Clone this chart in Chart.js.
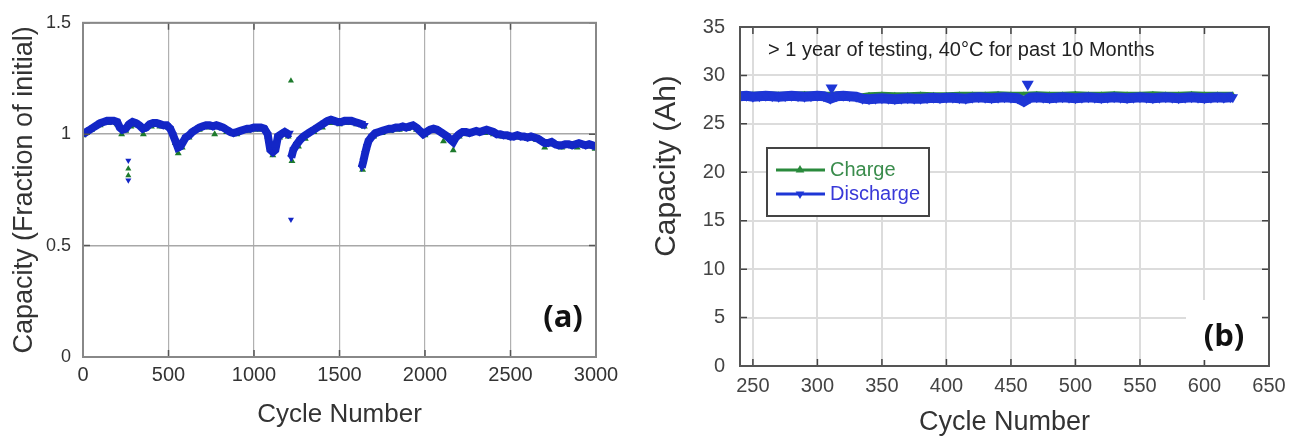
<!DOCTYPE html>
<html>
<head>
<meta charset="utf-8">
<script src="https://cdn.jsdelivr.net/npm/chart.js@4/dist/chart.umd.min.js"></script>
<style>
  body { margin: 0; background: #fff; width: 1298px; height: 440px; overflow: hidden; position: relative; }
  #wa { position: absolute; left: 0; top: 0; width: 640px; height: 440px; }
  #wb { position: absolute; left: 640px; top: 0; width: 658px; height: 440px; }
</style>
</head>
<body>
<div id="wa"><canvas id="chartA"></canvas></div>
<div id="wb"><canvas id="chartB"></canvas></div>
<script>
// ---- panel (a): capacity as fraction of initial ----
const aTicksX = [0, 500, 1000, 1500, 2000, 2500, 3000];
const aTicksY = [0, 0.5, 1, 1.5];

const aDisX = [0, 20, 40, 60, 80, 100, 120, 140, 160, 180, 200, 215, 230, 250, 270, 290, 310, 330, 350, 370,
  390, 410, 430, 450, 470, 490, 510, 525, 540, 555, 570, 585, 600, 620, 640, 660, 680, 700, 720, 740,
  760, 780, 800, 820, 840, 860, 880, 900, 920, 940, 960, 980, 1000, 1020, 1040, 1060, 1080, 1095, 1110, 1125,
  1140, 1160, 1180, 1200, 1210, 1214,
  1218, 1230, 1250, 1270, 1290, 1310, 1330, 1350, 1370, 1390, 1410, 1430, 1450, 1470, 1490, 1510, 1530, 1550,
  1570, 1590, 1610, 1630, 1648, 1649,
  1630, 1640, 1650, 1660, 1670, 1690, 1710, 1730, 1750, 1770, 1790, 1810, 1830, 1850, 1870, 1890, 1910, 1930,
  1950, 1970, 1990, 2010, 2030, 2050, 2070, 2090, 2110, 2130, 2150, 2165, 2180, 2200, 2220, 2240, 2260, 2280,
  2300, 2320, 2340, 2360, 2380, 2400, 2420, 2440, 2460, 2480, 2500, 2520, 2540, 2560, 2580, 2600, 2620, 2640,
  2660, 2680, 2700, 2720, 2740, 2760, 2780, 2800, 2820, 2840, 2860, 2880, 2900, 2920, 2940, 2960, 2980, 2995];
const aDisY = [1.0, 1.01, 1.02, 1.03, 1.04, 1.05, 1.055, 1.06, 1.06, 1.06, 1.055, 1.03, 1.02, 1.025, 1.045, 1.055, 1.05, 1.04, 1.025, 1.03,
  1.045, 1.05, 1.05, 1.045, 1.04, 1.04, 1.025, 1.0, 0.97, 0.94, 0.945, 0.965, 0.985, 0.995, 1.01, 1.02, 1.03, 1.035, 1.04, 1.04,
  1.035, 1.04, 1.035, 1.03, 1.02, 1.01, 1.005, 1.01, 1.015, 1.02, 1.025, 1.025, 1.03, 1.03, 1.03, 1.025, 1.0, 0.93, 0.92, 0.93,
  0.99, 1.0, 1.01, 1.0, 1.005, null,
  0.895, 0.93, 0.955, 0.975, 0.99, 1.0, 1.01, 1.02, 1.03, 1.04, 1.05, 1.06, 1.065, 1.06, 1.055, 1.055, 1.06, 1.06,
  1.06, 1.055, 1.05, 1.045, 1.04, null,
  0.85, 0.88, 0.915, 0.945, 0.97, 0.99, 1.005, 1.01, 1.015, 1.02, 1.025, 1.025, 1.03, 1.03, 1.035, 1.03, 1.035, 1.04,
  1.03, 1.015, 1.0, 1.01, 1.02, 1.025, 1.02, 1.01, 1.0, 0.99, 0.975, 0.965, 0.985, 1.0, 1.01, 1.01, 1.005, 1.01,
  1.015, 1.01, 1.015, 1.02, 1.015, 1.01, 1.0, 1.0, 0.995, 0.995, 0.99, 0.99, 0.995, 0.99, 0.99, 0.985, 0.99, 0.985,
  0.98, 0.97, 0.96, 0.96, 0.965, 0.955, 0.95, 0.95, 0.955, 0.955, 0.95, 0.955, 0.96, 0.955, 0.95, 0.955, 0.95, 0.945];

const aChgX = [0, 50, 100, 150, 200, 226, 250, 280, 300, 353, 400, 450, 500, 540, 557, 580, 620, 680, 740, 770,
  840, 900, 960, 1020, 1080, 1110, 1150, 1200, 1222, 1260, 1300, 1350, 1400, 1450, 1500, 1550, 1600, 1645,
  1635, 1660, 1700, 1750, 1800, 1850, 1900, 1950, 2000, 2050, 2108, 2165, 2200, 2250, 2300, 2350, 2400, 2450,
  2500, 2550, 2600, 2650, 2700, 2750, 2800, 2850, 2890, 2950, 2995];
const aChgY = [0.995, 1.02, 1.04, 1.05, 1.045, 1.0, 1.015, 1.035, 1.04, 1.0, 1.035, 1.035, 1.03, 0.96, 0.915, 0.94, 0.985, 1.02, 1.03, 1.0,
  1.01, 1.0, 1.015, 1.02, 0.99, 0.905, 0.985, 0.99, 0.88, 0.945, 0.98, 1.01, 1.03, 1.05, 1.045, 1.05, 1.045, 1.035,
  0.84, 0.94, 0.99, 1.005, 1.015, 1.02, 1.025, 1.02, 0.995, 1.015, 0.968, 0.928, 0.99, 1.0, 1.005, 1.005, 1.0, 0.99,
  0.985, 0.985, 0.98, 0.975, 0.94, 0.955, 0.94, 0.95, 0.94, 0.945, 0.935];

// isolated points away from the band
const aDisOutX = [265, 265, 1216];
const aDisOutY = [0.882, 0.793, 0.617];
const aChgOutX = [265, 265, 1216];
const aChgOutY = [0.845, 0.815, 1.24];

// ---- panel (b): capacity in Ah ----
const bTicksX = [250, 300, 350, 400, 450, 500, 550, 600, 650];
const bTicksY = [0, 5, 10, 15, 20, 25, 30, 35];

const bDisX = [240, 245, 250, 255, 260, 265, 270, 275, 280, 285, 290, 295, 300, 305, 310, 315, 320, 325, 330,
  335, 340, 345, 350, 355, 360, 365, 370, 375, 380, 385, 390, 395, 400,
  405, 410, 415, 420, 425, 430, 435, 440, 445, 450, 455, 460, 465, 470, 475, 480, 485, 490, 495, 500,
  505, 510, 515, 520, 525, 530, 535, 540, 545, 550, 555, 560, 565, 570, 575, 580, 585, 590, 595, 600,
  605, 610, 615, 620, 622];
const bDisY = [27.85, 27.9, 27.8, 27.85, 27.9, 27.85, 27.8, 27.85, 27.9, 27.85, 27.8, 27.85, 27.9, 27.85, 27.6, 27.85, 27.9, 27.85, 27.8,
  27.6, 27.55, 27.6, 27.65, 27.6, 27.55, 27.6, 27.65, 27.6, 27.6, 27.65, 27.7, 27.65, 27.7,
  27.7, 27.65, 27.6, 27.7, 27.75, 27.7, 27.65, 27.7, 27.75, 27.7, 27.65, 27.3, 27.7, 27.75, 27.7, 27.65, 27.7, 27.75, 27.7, 27.65,
  27.7, 27.75, 27.7, 27.65, 27.7, 27.75, 27.7, 27.65, 27.7, 27.75, 27.7, 27.65, 27.7, 27.75, 27.7, 27.65, 27.7, 27.75, 27.7, 27.65,
  27.7, 27.75, 27.7, 27.75, 27.75];

const bChgX = [240, 250, 260, 270, 280, 290, 300, 310, 320, 332, 340, 350, 360, 370, 380, 390, 400, 410, 420, 430,
  440, 450, 460, 470, 480, 490, 500, 510, 520, 530, 540, 550, 560, 570, 580, 590, 600, 610, 622];
const bChgY = [28.1, 28.1, 28.15, 28.1, 28.1, 28.15, 28.1, 28.1, 28.15, 27.9, 28.05, 28.1, 28.05, 28.05, 28.1, 28.05, 28.05, 28.1, 28.1, 28.1,
  28.15, 28.1, 28.1, 28.15, 28.1, 28.1, 28.15, 28.1, 28.1, 28.15, 28.1, 28.1, 28.15, 28.1, 28.1, 28.15, 28.1, 28.1, 28.1];

const bDisOutX = [311, 463];
const bDisOutY = [28.7, 29.1];

const BLUE_A = '#1326c6';
const GREEN_A = '#1d7a2c';
const BLUE_B = '#1e36d6';
const GREEN_B = '#2a8a3c';

Chart.defaults.font.family = "'Liberation Sans', Arial, sans-serif";
Chart.defaults.color = '#333';

function pts(xs, ys) {
  return xs.map((x, i) => ({ x: x, y: ys[i] }));
}

// frame, inward tick marks, panel letter, legend and note
const frame = {
  id: 'frame',
  afterDraw(chart, args, opts) {
    const { ctx, chartArea: { left, right, top, bottom }, scales: { x, y } } = chart;
    ctx.save();
    ctx.strokeStyle = opts.tickColor;
    ctx.lineWidth = 1.5;
    ctx.beginPath();
    x.ticks.forEach(t => {
      const px = x.getPixelForValue(t.value);
      ctx.moveTo(px, bottom); ctx.lineTo(px, bottom - opts.tickLen);
      ctx.moveTo(px, top); ctx.lineTo(px, top + opts.tickLen);
    });
    y.ticks.forEach(t => {
      const py = y.getPixelForValue(t.value);
      ctx.moveTo(left, py); ctx.lineTo(left + opts.tickLen, py);
      ctx.moveTo(right, py); ctx.lineTo(right - opts.tickLen, py);
    });
    ctx.stroke();
    ctx.strokeStyle = opts.color;
    ctx.lineWidth = opts.width;
    ctx.strokeRect(left, top, right - left, bottom - top);

    if (opts.letterBox) {
      ctx.fillStyle = '#fff';
      ctx.fillRect(opts.letterBox[0], opts.letterBox[1], opts.letterBox[2], opts.letterBox[3]);
    }
    ctx.fillStyle = '#111';
    ctx.font = "bold 31px 'Open Sans', 'Liberation Sans', sans-serif";
    ctx.textAlign = 'center';
    ctx.textBaseline = 'middle';
    ctx.fillText(opts.letter, opts.letterX, opts.letterY);

    if (opts.yTitle) {
      ctx.save();
      ctx.translate(opts.yTitle.x, opts.yTitle.y);
      ctx.rotate(-Math.PI / 2);
      ctx.fillStyle = '#333';
      ctx.font = "30px 'Liberation Sans', Arial, sans-serif";
      ctx.fillText(opts.yTitle.text, 0, 0);
      ctx.restore();
    }

    if (opts.note) {
      ctx.fillStyle = '#222';
      ctx.font = "20px 'Liberation Sans', Arial, sans-serif";
      ctx.textAlign = 'left';
      ctx.fillText(opts.note, opts.noteX, opts.noteY);
    }

    if (opts.legend) {
      const lg = opts.legend;
      ctx.fillStyle = '#fff';
      ctx.fillRect(lg.x, lg.y, lg.w, lg.h);
      ctx.strokeStyle = '#444';
      ctx.lineWidth = 2;
      ctx.strokeRect(lg.x, lg.y, lg.w, lg.h);
      ctx.font = "20px 'Liberation Sans', Arial, sans-serif";
      ctx.textAlign = 'left';
      lg.items.forEach((it, i) => {
        const cy = lg.y + 22 + i * 24;
        ctx.strokeStyle = it.color;
        ctx.lineWidth = 3;
        ctx.beginPath();
        ctx.moveTo(lg.x + 9, cy); ctx.lineTo(lg.x + 58, cy);
        ctx.stroke();
        const cx = lg.x + 33, r = 5;
        const s = it.down ? -1 : 1;
        ctx.fillStyle = it.color;
        ctx.beginPath();
        ctx.moveTo(cx, cy - s * r);
        ctx.lineTo(cx + r * 0.87, cy + s * r * 0.5);
        ctx.lineTo(cx - r * 0.87, cy + s * r * 0.5);
        ctx.closePath();
        ctx.fill();
        ctx.fillStyle = it.text;
        ctx.fillText(it.label, lg.x + 63, cy);
      });
    }
    ctx.restore();
  }
};

const configA = {
  type: 'scatter',
  data: {
    datasets: [{
      label: 'Charge',
      data: pts(aChgX, aChgY),
      showLine: false,
      pointStyle: 'triangle',
      pointRadius: 4,
      pointBorderWidth: 0,
      backgroundColor: GREEN_A,
      borderColor: GREEN_A,
      order: 3
    }, {
      label: 'Charge',
      data: pts(aChgOutX, aChgOutY),
      showLine: false,
      pointStyle: 'triangle',
      pointRadius: 3.5,
      pointBorderWidth: 0,
      backgroundColor: GREEN_A,
      order: 2
    }, {
      label: 'Discharge',
      data: pts(aDisX, aDisY),
      showLine: true,
      spanGaps: false,
      tension: 0,
      borderWidth: 8,
      borderColor: BLUE_A,
      pointStyle: 'triangle',
      pointRotation: 180,
      pointRadius: 4.5,
      pointBorderWidth: 0,
      backgroundColor: BLUE_A,
      order: 1
    }, {
      label: 'Discharge',
      data: pts(aDisOutX, aDisOutY),
      showLine: false,
      pointStyle: 'triangle',
      pointRotation: 180,
      pointRadius: 3.5,
      pointBorderWidth: 0,
      backgroundColor: BLUE_A,
      order: 1
    }]
  },
  options: {
    responsive: true,
    maintainAspectRatio: false,
    animation: false,
    events: [],
    layout: { padding: { top: 22, right: 44, bottom: 0, left: 0 } },
    plugins: {
      legend: { display: false },
      tooltip: { enabled: false },
      frame: {
        color: '#888', width: 2, tickColor: '#555', tickLen: 7,
        letter: '(a)', letterX: 563, letterY: 318
      }
    },
    scales: {
      x: {
        type: 'linear', min: 0, max: 3000,
        afterBuildTicks: axis => { axis.ticks = aTicksX.map(v => ({ value: v })); },
        afterFit: axis => { axis.height = 83; },
        grid: { color: '#b0b0b0', lineWidth: 1.2, drawTicks: false },
        border: { display: false },
        ticks: { padding: 6, color: '#333', font: { size: 20 }, maxRotation: 0, autoSkip: false, callback: v => String(v) },
        title: { display: true, text: 'Cycle Number', color: '#333', font: { size: 26 }, padding: { top: 0, bottom: 10 } }
      },
      y: {
        type: 'linear', min: 0, max: 1.5,
        afterBuildTicks: axis => { axis.ticks = aTicksY.map(v => ({ value: v })); },
        afterFit: axis => { axis.width = 83; },
        grid: { color: '#a8a8a8', lineWidth: 1.5, drawTicks: false },
        border: { display: false },
        ticks: { padding: 12, color: '#333', font: { size: 18 }, callback: v => String(v) },
        title: { display: true, text: 'Capacity (Fraction of initial)', color: '#333', font: { size: 27 }, padding: { top: 8, bottom: 0 } }
      }
    }
  },
  plugins: [frame]
};

const configB = {
  type: 'scatter',
  data: {
    datasets: [{
      label: 'Charge',
      data: pts(bChgX, bChgY),
      showLine: true,
      tension: 0,
      borderWidth: 4,
      borderColor: GREEN_B,
      pointStyle: 'triangle',
      pointRadius: 2.5,
      pointBorderWidth: 0,
      backgroundColor: GREEN_B,
      order: 3
    }, {
      label: 'Discharge',
      data: pts(bDisX, bDisY),
      showLine: true,
      tension: 0,
      borderWidth: 10,
      borderColor: BLUE_B,
      pointStyle: 'triangle',
      pointRotation: 180,
      pointRadius: 6,
      pointBorderWidth: 0,
      backgroundColor: BLUE_B,
      order: 1
    }, {
      label: 'Discharge',
      data: pts(bDisOutX, bDisOutY),
      showLine: false,
      pointStyle: 'triangle',
      pointRotation: 180,
      pointRadius: 7,
      pointBorderWidth: 0,
      backgroundColor: BLUE_B,
      order: 1
    }]
  },
  options: {
    responsive: true,
    maintainAspectRatio: false,
    animation: false,
    events: [],
    layout: { padding: { top: 20, right: 29, bottom: 0, left: 0 } },
    plugins: {
      legend: { display: false },
      tooltip: { enabled: false },
      frame: {
        color: '#555', width: 2, tickColor: '#444', tickLen: 7,
        letter: '(b)', letterX: 584, letterY: 337,
        letterBox: [546, 300, 76, 60],
        yTitle: { text: 'Capacity (Ah)', x: 27, y: 166 },
        note: '> 1 year of testing, 40°C for past 10 Months', noteX: 128, noteY: 50,
        legend: {
          x: 127, y: 148, w: 162, h: 68,
          items: [
            { label: 'Charge', color: GREEN_B, text: '#3a8c4c', down: false },
            { label: 'Discharge', color: BLUE_B, text: '#3838d8', down: true }
          ]
        }
      }
    },
    scales: {
      x: {
        type: 'linear', min: 240, max: 650,
        afterBuildTicks: axis => { axis.ticks = bTicksX.map(v => ({ value: v })); },
        afterFit: axis => { axis.height = 74; },
        grid: { color: '#dcdcdc', lineWidth: 2, drawTicks: false },
        border: { display: false },
        ticks: { padding: 8, color: '#444', font: { size: 20 }, maxRotation: 0, autoSkip: false, callback: v => String(v) },
        title: { display: true, text: 'Cycle Number', color: '#333', font: { size: 27 }, padding: { top: 0, bottom: 1 } }
      },
      y: {
        type: 'linear', min: 0, max: 35,
        afterBuildTicks: axis => { axis.ticks = bTicksY.map(v => ({ value: v })); },
        afterFit: axis => { axis.width = 100; },
        grid: { color: '#dcdcdc', lineWidth: 2, drawTicks: false },
        border: { display: false },
        ticks: { padding: 15, color: '#444', font: { size: 20 }, callback: v => String(v) },
        title: { display: false }
      }
    }
  },
  plugins: [frame]
};

var chartA = new Chart(document.getElementById('chartA'), configA);
var chartB = new Chart(document.getElementById('chartB'), configB);
</script>
</body>
</html>
